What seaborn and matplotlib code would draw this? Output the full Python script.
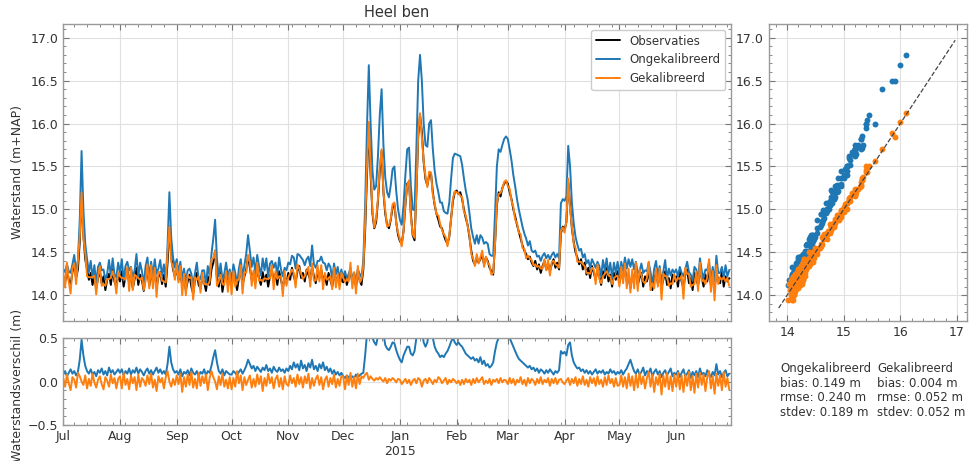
import pandas as pd
import numpy as np
import seaborn as sns
import matplotlib.pyplot as plt
import matplotlib.dates as mdates
from matplotlib.ticker import MultipleLocator, FuncFormatter

# daggemiddelde waterstanden (m+NAP), 1 jul 2014 - 30 jun 2015
observaties = [
    14.22, 14.15, 14.30, 14.18, 14.12, 14.27, 14.35, 14.20, 14.30, 14.62, 15.20, 14.70, 14.42, 14.30, 14.18, 14.26,
    14.12, 14.24, 14.08, 14.20, 14.28, 14.14, 14.22, 14.06, 14.18, 14.25, 14.12, 14.30, 14.16, 14.10, 14.24,  # jul
    14.16, 14.28, 14.10, 14.22, 14.30, 14.14, 14.25, 14.08, 14.19, 14.32, 14.12, 14.24, 14.17, 14.05, 14.22, 14.29,
    14.11, 14.26, 14.15, 14.30, 14.09, 14.21, 14.27, 14.13, 14.24, 14.10, 14.38, 14.80, 14.45, 14.30, 14.22,  # aug
    14.30, 14.18, 14.25, 14.12, 14.20, 14.06, 14.16, 14.24, 14.10, 14.02, 14.18, 14.26, 14.12, 14.08, 14.20,
    14.15, 14.05, 14.22, 14.12, 14.30, 14.38, 14.52, 14.20, 14.10, 14.28, 14.04, 14.18, 14.26, 14.12, 14.22,  # sep
    14.10, 14.24, 14.16, 14.06, 14.20, 14.28, 14.12, 14.22, 14.30, 14.45, 14.32, 14.18, 14.26, 14.14, 14.30, 14.20,
    14.12, 14.27, 14.16, 14.24, 14.10, 14.22, 14.30, 14.15, 14.25, 14.12, 14.28, 14.18, 14.08, 14.22, 14.14,  # okt
    14.26, 14.18, 14.32, 14.22, 14.15, 14.28, 14.34, 14.20, 14.26, 14.16, 14.30, 14.24, 14.18, 14.33, 14.22,
    14.14, 14.28, 14.20, 14.30, 14.16, 14.24, 14.12, 14.26, 14.18, 14.10, 14.24, 14.16, 14.22, 14.12, 14.20,  # nov
    14.15, 14.24, 14.12, 14.20, 14.28, 14.14, 14.22, 14.10, 14.25, 14.18, 14.12, 14.30, 14.75, 15.40, 16.00, 15.40,
    14.95, 14.78, 14.85, 15.10, 15.45, 15.68, 15.20, 14.95, 14.82, 14.78, 14.88, 15.02, 15.06, 14.85, 14.70,  # dec
    14.63, 14.60, 14.75, 15.05, 15.30, 15.32, 14.95, 14.70, 14.64, 15.20, 15.85, 16.10, 15.90, 15.55, 15.35, 15.28,
    15.40, 15.42, 15.20, 15.05, 14.95, 14.88, 14.80, 14.78, 14.70, 14.64, 14.60, 14.68, 14.90, 15.10, 15.20,  # jan
    15.22, 15.18, 15.20, 15.12, 15.00, 14.90, 14.82, 14.68, 14.52, 14.40, 14.36, 14.44, 14.38, 14.42,
    14.47, 14.36, 14.44, 14.40, 14.32, 14.28, 14.24, 14.60, 15.05, 15.20, 15.15, 15.25, 15.30, 15.33,  # feb
    15.30, 15.20, 15.12, 15.00, 14.92, 14.82, 14.74, 14.66, 14.58, 14.52, 14.48, 14.42, 14.45, 14.38, 14.34, 14.40,
    14.30, 14.36, 14.26, 14.34, 14.40, 14.30, 14.37, 14.28, 14.36, 14.42, 14.32, 14.38, 14.30, 14.72, 14.80,  # mrt
    14.76, 14.85, 15.32, 15.05, 14.78, 14.62, 14.50, 14.44, 14.36, 14.42, 14.30, 14.38, 14.24, 14.32, 14.20,
    14.34, 14.26, 14.18, 14.30, 14.22, 14.12, 14.28, 14.20, 14.32, 14.16, 14.24, 14.10, 14.26, 14.18, 14.28,  # apr
    14.14, 14.26, 14.20, 14.32, 14.16, 14.22, 14.08, 14.24, 14.18, 14.30, 14.12, 14.20, 14.26, 14.10, 14.22, 14.16,
    14.28, 14.12, 14.06, 14.20, 14.26, 14.14, 14.22, 14.10, 14.18, 14.28, 14.12, 14.20, 14.08, 14.24, 14.16,  # mei
    14.22, 14.10, 14.28, 14.16, 14.08, 14.24, 14.30, 14.14, 14.20, 14.06, 14.26, 14.18, 14.12, 14.28, 14.20,
    14.10, 14.24, 14.16, 14.30, 14.12, 14.22, 14.08, 14.26, 14.18, 14.14, 14.28, 14.10, 14.22, 14.16, 14.20,  # jun
]

verschil_ongekal = [
    0.08, 0.12, 0.06, 0.10, 0.14, 0.09, 0.12, 0.07, 0.11, 0.25, 0.48, 0.30, 0.18, 0.12, 0.09, 0.14,
    0.08, 0.11, 0.06, 0.13, 0.10, 0.15, 0.08, 0.12, 0.07, 0.16, 0.10, 0.13, 0.08, 0.11, 0.14,
    0.10, 0.14, 0.07, 0.12, 0.09, 0.15, 0.08, 0.13, 0.10, 0.16, 0.09, 0.14, 0.11, 0.07, 0.12, 0.15,
    0.09, 0.13, 0.08, 0.12, 0.16, 0.10, 0.14, 0.09, 0.12, 0.08, 0.20, 0.40, 0.22, 0.14, 0.10,
    0.12, 0.08, 0.14, 0.06, 0.11, 0.09, 0.13, 0.07, 0.15, 0.10, 0.08, 0.12, 0.06, 0.11, 0.09,
    0.14, 0.07, 0.12, 0.10, 0.18, 0.28, 0.36, 0.22, 0.12, 0.09, 0.14, 0.07, 0.12, 0.10, 0.08,
    0.08, 0.12, 0.10, 0.07, 0.11, 0.14, 0.09, 0.13, 0.18, 0.25, 0.20, 0.15, 0.18, 0.12, 0.17, 0.14,
    0.11, 0.16, 0.13, 0.19, 0.12, 0.15, 0.10, 0.17, 0.13, 0.11, 0.16, 0.12, 0.14, 0.10, 0.15,
    0.12, 0.18, 0.14, 0.22, 0.16, 0.20, 0.13, 0.24, 0.15, 0.19, 0.12, 0.21, 0.16, 0.25, 0.14,
    0.18, 0.12, 0.20, 0.15, 0.22, 0.13, 0.17, 0.11, 0.15, 0.09, 0.13, 0.08, 0.11, 0.07, 0.10,
    0.06, 0.04, 0.07, 0.05, 0.03, 0.06, 0.04, 0.08, 0.05, 0.07, 0.09, 0.10, 0.30, 0.55, 0.68, 0.60,
    0.50, 0.45, 0.42, 0.52, 0.65, 0.72, 0.55, 0.42, 0.38, 0.36, 0.40, 0.45, 0.44, 0.36, 0.30,
    0.25, 0.22, 0.30, 0.35, 0.40, 0.40, 0.32, 0.30, 0.35, 0.50, 0.65, 0.70, 0.60, 0.45, 0.40, 0.45,
    0.60, 0.62, 0.50, 0.40, 0.35, 0.32, 0.28, 0.30, 0.28, 0.32, 0.35, 0.40, 0.46, 0.50, 0.45,
    0.42, 0.45, 0.42, 0.40, 0.36, 0.32, 0.30, 0.28, 0.26, 0.28, 0.24, 0.26, 0.22, 0.28,
    0.20, 0.24, 0.18, 0.20, 0.16, 0.18, 0.22, 0.35, 0.45, 0.50, 0.52, 0.50, 0.52, 0.52,
    0.52, 0.50, 0.45, 0.40, 0.35, 0.30, 0.26, 0.24, 0.22, 0.20, 0.18, 0.16, 0.18, 0.14, 0.16, 0.12,
    0.15, 0.10, 0.14, 0.12, 0.09, 0.13, 0.10, 0.14, 0.11, 0.08, 0.12, 0.10, 0.13, 0.35, 0.32,
    0.34, 0.30, 0.42, 0.45, 0.30, 0.22, 0.18, 0.15, 0.16, 0.12, 0.14, 0.10, 0.13, 0.09, 0.12,
    0.08, 0.11, 0.14, 0.09, 0.12, 0.10, 0.13, 0.08, 0.11, 0.09, 0.14, 0.10, 0.12, 0.08, 0.11,
    0.09, 0.13, 0.08, 0.12, 0.15, 0.20, 0.25, 0.18, 0.12, 0.09, 0.14, 0.08, 0.11, 0.16, 0.07, 0.12,
    0.10, 0.15, 0.06, 0.11, 0.14, 0.08, 0.12, 0.05, 0.10, 0.13, 0.07, 0.11, 0.15, 0.06, 0.10,
    0.08, 0.12, 0.05, 0.10, 0.14, 0.06, 0.09, 0.13, 0.04, 0.11, 0.07, 0.12, 0.05, 0.15, 0.08,
    0.10, 0.06, 0.13, 0.09, 0.05, 0.11, 0.07, 0.20, 0.08, 0.12, 0.05, 0.10, 0.13, 0.06, 0.09,
]
verschil_gekal = [
    0.04, -0.06, 0.08, -0.02, -0.10, 0.05, 0.02, -0.07, 0.10, 0.06, 0.00, -0.04, 0.07, -0.08, 0.03, -0.05,
    0.09, -0.01, -0.07, 0.02, 0.06, -0.03, -0.09, 0.05, 0.01, -0.06, 0.08, -0.02, 0.04, -0.08, 0.03,
    0.06, -0.08, 0.10, -0.04, 0.03, -0.09, 0.07, -0.02, 0.05, -0.10, 0.08, -0.06, 0.04, 0.01, -0.05, 0.07,
    -0.03, 0.09, -0.07, 0.02, -0.11, 0.06, -0.01, 0.04, -0.08, 0.05, 0.12, 0.00, -0.06, 0.03, -0.04,
    0.07, -0.03, 0.09, -0.12, 0.05, -0.06, 0.08, -0.04, 0.11, -0.07, 0.03, -0.08, 0.10, -0.05, 0.06,
    -0.02, 0.08, -0.10, 0.04, 0.12, 0.05, 0.00, -0.09, 0.06, -0.04, 0.09, -0.06, 0.02, -0.08, 0.05,
    -0.09, 0.04, -0.06, 0.12, -0.02, 0.07, -0.10, 0.05, -0.04, 0.02, 0.07, -0.07, 0.03, -0.06, 0.08, -0.03,
    0.06, -0.11, 0.04, -0.05, 0.09, -0.02, 0.05, -0.08, 0.03, 0.07, -0.06, 0.04, -0.09, 0.06, -0.03,
    -0.05, 0.07, -0.02, 0.04, -0.06, 0.08, -0.03, 0.05, -0.07, 0.06, -0.02, 0.09, -0.08, 0.04, -0.05,
    0.03, 0.07, -0.04, 0.05, -0.09, 0.02, 0.06, -0.06, 0.04, -0.03, 0.08, -0.07, 0.03, -0.05, 0.06,
    0.06, -0.09, 0.07, -0.04, 0.10, -0.06, 0.05, -0.08, 0.09, -0.03, 0.06, 0.04, 0.08, 0.10, 0.02, 0.06,
    0.03, 0.01, 0.04, 0.02, 0.05, 0.02, 0.00, 0.04, -0.02, 0.03, 0.01, 0.04, 0.02, -0.01, 0.03,
    0.02, -0.03, 0.00, 0.03, -0.02, 0.02, -0.04, 0.01, 0.03, -0.02, 0.04, 0.02, -0.06, 0.01, 0.03, -0.02,
    0.04, 0.01, -0.03, 0.02, -0.01, 0.05, 0.03, -0.02, 0.01, 0.04, -0.03, 0.02, -0.01, 0.03, 0.01,
    -0.02, 0.01, -0.04, 0.02, -0.03, 0.03, -0.01, 0.02, -0.04, 0.03, -0.02, 0.04, -0.01, 0.02,
    0.05, -0.03, 0.01, -0.02, 0.03, -0.04, 0.02, 0.00, 0.03, -0.02, 0.04, -0.01, 0.02, 0.01,
    -0.03, 0.04, -0.02, 0.03, -0.04, 0.02, -0.01, 0.05, -0.03, 0.02, -0.05, 0.04, -0.02, 0.03, 0.01, -0.04,
    0.03, -0.02, 0.05, -0.03, 0.02, -0.01, 0.04, -0.05, 0.03, -0.02, 0.04, -0.03, 0.02, 0.03, -0.01,
    -0.03, 0.01, 0.04, -0.04, 0.03, -0.02, 0.05, -0.05, 0.03, -0.03, 0.06, -0.04, 0.02, -0.06, 0.05,
    -0.02, 0.04, -0.05, 0.06, -0.03, 0.02, -0.06, 0.05, -0.04, 0.07, -0.02, 0.03, -0.06, 0.04, -0.05,
    -0.04, 0.07, -0.06, 0.05, -0.08, 0.09, -0.05, 0.06, -0.10, 0.08, -0.07, 0.10, -0.03, 0.06, -0.08, 0.04,
    0.11, -0.06, 0.08, -0.12, 0.05, -0.04, 0.09, -0.15, 0.07, -0.06, 0.10, -0.09, 0.06, -0.11, 0.08,
    -0.06, 0.10, -0.09, 0.07, -0.12, 0.08, -0.05, 0.11, -0.10, 0.06, -0.13, 0.09, -0.07, 0.10, -0.04,
    0.08, -0.11, 0.05, 0.12, -0.08, 0.06, -0.14, 0.09, -0.05, 0.07, -0.10, 0.11, -0.06, 0.04, -0.09,
]

stats_ongekal = "Ongekalibreerd\nbias: 0.149 m\nrmse: 0.240 m\nstdev: 0.189 m"
stats_gekal = "Gekalibreerd\nbias: 0.004 m\nrmse: 0.052 m\nstdev: 0.052 m"

df = pd.DataFrame({
    "datum": pd.date_range("2014-07-01", periods=len(observaties), freq="D"),
    "obs": observaties,
    "d_ongekal": verschil_ongekal,
    "d_gekal": verschil_gekal,
})
df["ongekal"] = df["obs"] + df["d_ongekal"]
df["gekal"] = df["obs"] + df["d_gekal"]

sns.set_style("whitegrid")
plt.rcParams.update({
    "font.family": ["DejaVu Sans"],
    "axes.edgecolor": "#9a9a9a",
    "axes.linewidth": 1.0,
    "grid.color": "#e0e0e0",
    "grid.linewidth": 0.8,
    "xtick.color": "#777777",
    "ytick.color": "#777777",
    "xtick.labelcolor": "#333333",
    "ytick.labelcolor": "#333333",
    "xtick.labelsize": 9,
    "ytick.labelsize": 9,
    "text.color": "#333333",
    "axes.labelcolor": "#333333",
})

blauw = "#1f77b4"
oranje = "#ff7f0e"
lw = 1.4

fig = plt.figure(figsize=(9.78, 4.61), dpi=100)
ax = fig.add_axes([0.0647, 0.3037, 0.6827, 0.6443])
ax2 = fig.add_axes([0.0647, 0.0781, 0.6827, 0.1887], sharex=ax)
ax3 = fig.add_axes([0.7863, 0.3037, 0.2025, 0.6443])

# tijdreeks
sns.lineplot(data=df, x="datum", y="obs", ax=ax, color="black", lw=lw, label="Observaties")
sns.lineplot(data=df, x="datum", y="ongekal", ax=ax, color=blauw, lw=lw, label="Ongekalibreerd")
sns.lineplot(data=df, x="datum", y="gekal", ax=ax, color=oranje, lw=lw, label="Gekalibreerd")
ax.set_ylim(13.7, 17.16)
ax.set_xlim(pd.Timestamp("2014-07-01"), pd.Timestamp("2015-06-30 23:00"))
ax.set_title("Heel ben", fontsize=10.5, pad=5)
ax.set_xlabel("")
ax.set_ylabel("Waterstand (m+NAP)", fontsize=9)
ax.yaxis.set_label_coords(-0.059, 0.5)
ax.yaxis.set_major_locator(MultipleLocator(0.5))
ax.yaxis.set_minor_locator(MultipleLocator(0.1))
ax.yaxis.set_major_formatter(FuncFormatter(lambda v, p: f"{v:.1f}"))
ax.legend(loc="upper right", fontsize=8.5, frameon=True, framealpha=1,
          edgecolor="#cccccc", handlelength=2.0, borderaxespad=0.5)

# verschil
sns.lineplot(data=df, x="datum", y="d_ongekal", ax=ax2, color=blauw, lw=lw)
sns.lineplot(data=df, x="datum", y="d_gekal", ax=ax2, color=oranje, lw=lw)
ax2.set_ylim(-0.5, 0.5)
ax2.set_xlabel("")
ax2.set_ylabel("Waterstandsverschil (m)", fontsize=9)
ax2.yaxis.set_label_coords(-0.059, 0.45)
ax2.yaxis.set_major_locator(MultipleLocator(0.5))
ax2.yaxis.set_minor_locator(MultipleLocator(0.1))
ax2.xaxis.set_major_locator(mdates.MonthLocator())
ax2.xaxis.set_minor_locator(mdates.WeekdayLocator(byweekday=0))


def maand(x, pos):
    d = mdates.num2date(x)
    s = d.strftime("%b")
    return s + "\n2015" if d.month == 1 else s


ax2.xaxis.set_major_formatter(FuncFormatter(maand))

# scatter
sns.scatterplot(data=df, x="obs", y="ongekal", ax=ax3, color=blauw, s=18, linewidth=0)
sns.scatterplot(data=df, x="obs", y="gekal", ax=ax3, color=oranje, s=18, linewidth=0)
ax3.plot([13.85, 16.97], [13.85, 16.97], ls="--", color="#444444", lw=0.9)
ax3.set_xlim(13.68, 17.18)
ax3.set_ylim(13.7, 17.16)
ax3.set_xlabel("")
ax3.set_ylabel("")
ax3.xaxis.set_major_locator(MultipleLocator(1))
ax3.xaxis.set_minor_locator(MultipleLocator(0.2))
ax3.yaxis.set_major_locator(MultipleLocator(0.5))
ax3.yaxis.set_minor_locator(MultipleLocator(0.1))

for a in (ax, ax2, ax3):
    a.tick_params(which="both", direction="in", top=True, right=True, bottom=True, left=True)
    a.tick_params(which="major", length=4, width=0.8)
    a.tick_params(which="minor", length=2, width=0.6)
    a.grid(True, which="major")
    a.grid(False, which="minor")
    for sp in a.spines.values():
        sp.set_color("#9a9a9a")

ax.tick_params(axis="x", labelbottom=False)
ax.tick_params(axis="y", labelright=True)
ax3.tick_params(axis="y", labelleft=False)

fig.text(780 / 978, 1 - 362 / 461, stats_ongekal, fontsize=8.5, va="top", ha="left", linespacing=1.15)
fig.text(877 / 978, 1 - 362 / 461, stats_gekal, fontsize=8.5, va="top", ha="left", linespacing=1.15)

fig.savefig("out.png", dpi=100)
